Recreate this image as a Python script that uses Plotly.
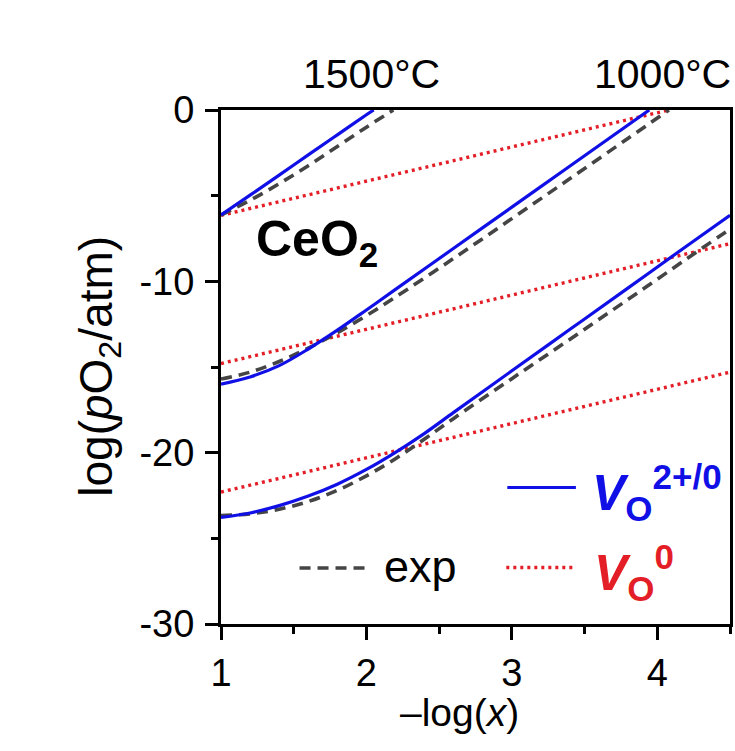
import plotly.graph_objects as go

# ---- data: log(pO2/atm) vs -log(x) for CeO2 at three temperatures ----
# 1500 °C
x_hi_calc = [1.0, 1.2, 1.4, 1.6, 1.8, 2.0, 2.05]
y_hi_calc = [-6.13, -4.97, -3.8, -2.62, -1.45, -0.28, 0.0]
x_hi_exp = [1.0, 1.2, 1.4, 1.6, 1.8, 2.0, 2.185]
y_hi_exp = [-6.13, -5.27, -4.3, -3.25, -2.13, -1.0, 0.0]
x_hi_v0 = [1.0, 4.08]
y_hi_v0 = [-6.15, 0.0]

# intermediate temperature
x_mid_calc = [1.0, 1.2, 1.4, 1.6, 1.8, 2.0, 2.2, 2.6, 3.0, 3.4, 3.945]
y_mid_calc = [-16.0, -15.58, -14.92, -13.95, -12.85, -11.67, -10.47, -8.07, -5.67, -3.27, 0.0]
x_mid_exp = [1.0, 1.2, 1.4, 1.6, 1.8, 2.0, 2.2, 2.6, 3.0, 3.4, 3.8, 4.08]
y_mid_exp = [-15.7, -15.3, -14.68, -13.9, -13.0, -12.0, -10.92, -8.66, -6.34, -4.0, -1.65, 0.0]
x_mid_v0 = [1.0, 4.5]
y_mid_v0 = [-14.8, -7.8]

# 1000 °C
x_lo_calc = [1.0, 1.2, 1.4, 1.6, 1.8, 2.0, 2.2, 2.4, 2.6, 3.0, 3.4, 3.8, 4.2, 4.5]
y_lo_calc = [-23.78, -23.52, -23.09, -22.53, -21.84, -20.98, -19.98, -18.87, -17.65,
             -15.22, -12.8, -10.38, -7.95, -6.15]
x_lo_exp = [1.0, 1.2, 1.4, 1.6, 1.8, 2.0, 2.2, 2.4, 2.6, 3.0, 3.4, 3.8, 4.2, 4.5]
y_lo_exp = [-23.67, -23.57, -23.3, -22.85, -22.2, -21.35, -20.35, -19.2, -18.0,
            -15.68, -13.38, -11.05, -8.7, -6.95]
x_lo_v0 = [1.0, 4.5]
y_lo_v0 = [-22.3, -15.3]

x_ticks = [1, 2, 3, 4]
x_ticklabels = ["1", "2", "3", "4"]
y_ticks = [0, -10, -20, -30]
y_ticklabels = ["0", "-10", "-20", "-30"]
temp_labels = ["1500°C", "1000°C"]

BLUE = "#1010e6"
GRAY = "#454545"
RED = "#e41e26"
FONT = "Liberation Sans, Arial, sans-serif"

calc_line = dict(color=BLUE, width=3.2)
exp_line = dict(color=GRAY, width=3.6, dash="11px,7px")
v0_line = dict(color=RED, width=3.4, dash="3px,4px")

fig = go.Figure()
for xs, ys in [(x_hi_v0, y_hi_v0), (x_mid_v0, y_mid_v0), (x_lo_v0, y_lo_v0)]:
    fig.add_trace(go.Scatter(x=xs, y=ys, mode="lines", line=v0_line, showlegend=False))
for xs, ys in [(x_hi_exp, y_hi_exp), (x_mid_exp, y_mid_exp), (x_lo_exp, y_lo_exp)]:
    fig.add_trace(go.Scatter(x=xs, y=ys, mode="lines", line=exp_line, showlegend=False,
                             line_shape="spline"))
for xs, ys in [(x_hi_calc, y_hi_calc), (x_mid_calc, y_mid_calc), (x_lo_calc, y_lo_calc)]:
    fig.add_trace(go.Scatter(x=xs, y=ys, mode="lines", line=calc_line, showlegend=False,
                             line_shape="spline"))

axis_common = dict(
    showline=True, linecolor="black", linewidth=3, mirror=True,
    ticks="outside", tickwidth=3, tickcolor="black", ticklen=13,
    showgrid=False, zeroline=False,
    tickfont=dict(family=FONT, size=38, color="black"),
)
fig.update_xaxes(range=[1, 4.5], tickmode="array", tickvals=x_ticks, ticktext=x_ticklabels,
                 minor=dict(dtick=0.5, tick0=1, ticks="outside", ticklen=7, tickwidth=3,
                            tickcolor="black", showgrid=False),
                 **axis_common)
fig.update_yaxes(range=[-30, 0], tickmode="array", tickvals=y_ticks, ticktext=y_ticklabels,
                 minor=dict(dtick=5, tick0=0, ticks="outside", ticklen=7, tickwidth=3,
                            tickcolor="black", showgrid=False),
                 ticklabelstandoff=3,
                 **axis_common)

L, R, T, B = 221, 2, 110, 127
W, H = 735, 751
PW, PH = W - L - R, H - T - B


def px(xp):
    return (xp - L) / PW


def py(yp):
    return (H - B - yp) / PH


annotations = [
    dict(text=temp_labels[0], x=px(372), y=py(74), xref="paper", yref="paper",
         xanchor="center", yanchor="middle", showarrow=False,
         font=dict(family=FONT, size=41, color="black")),
    dict(text=temp_labels[1], x=px(665), y=py(74), xref="paper", yref="paper",
         xanchor="center", yanchor="middle", showarrow=False,
         font=dict(family=FONT, size=41, color="black")),
    dict(text="<b>CeO<sub>2</sub></b>", x=px(254), y=py(243), xref="paper", yref="paper",
         xanchor="left", yanchor="middle", showarrow=False,
         font=dict(family=FONT, size=50, color="black")),
    dict(text="log(<i>p</i>O<sub>2</sub>/atm)", x=px(98), y=py(366), xref="paper", yref="paper",
         xanchor="center", yanchor="middle", textangle=-90, showarrow=False,
         font=dict(family=FONT, size=46, color="black")),
    dict(text="–log(<i>x</i>)", x=px(461), y=py(712), xref="paper", yref="paper",
         xanchor="center", yanchor="middle", showarrow=False,
         font=dict(family=FONT, size=39, color="black")),
    dict(text="<b><i>V</i><sub>O</sub><sup>2+/0</sup></b>", x=px(592), y=py(492), xref="paper",
         yref="paper", xanchor="left", yanchor="middle", showarrow=False,
         font=dict(family=FONT, size=50, color=BLUE)),
    dict(text="<b><i>V</i><sub>O</sub><sup>0</sup></b>", x=px(594), y=py(572), xref="paper",
         yref="paper", xanchor="left", yanchor="middle", showarrow=False,
         font=dict(family=FONT, size=50, color=RED)),
    dict(text="exp", x=px(383), y=py(566), xref="paper", yref="paper",
         xanchor="left", yanchor="middle", showarrow=False,
         font=dict(family=FONT, size=45, color="black")),
]

shapes = [
    dict(type="line", xref="paper", yref="paper", x0=px(509), x1=px(578), y0=py(487.5),
         y1=py(487.5), line=dict(color=BLUE, width=3.2)),
    dict(type="line", xref="paper", yref="paper", x0=px(508), x1=px(577), y0=py(567.5),
         y1=py(567.5), line=dict(color=RED, width=3.4, dash="3px,4px")),
    dict(type="line", xref="paper", yref="paper", x0=px(300), x1=px(372), y0=py(568),
         y1=py(568), line=dict(color=GRAY, width=3.6, dash="11px,7px")),
]

fig.update_layout(
    width=W, height=H,
    margin=dict(l=L, r=R, t=T, b=B),
    paper_bgcolor="white", plot_bgcolor="white",
    annotations=annotations, shapes=shapes,
    showlegend=False,
)

fig.write_html("out.html")
